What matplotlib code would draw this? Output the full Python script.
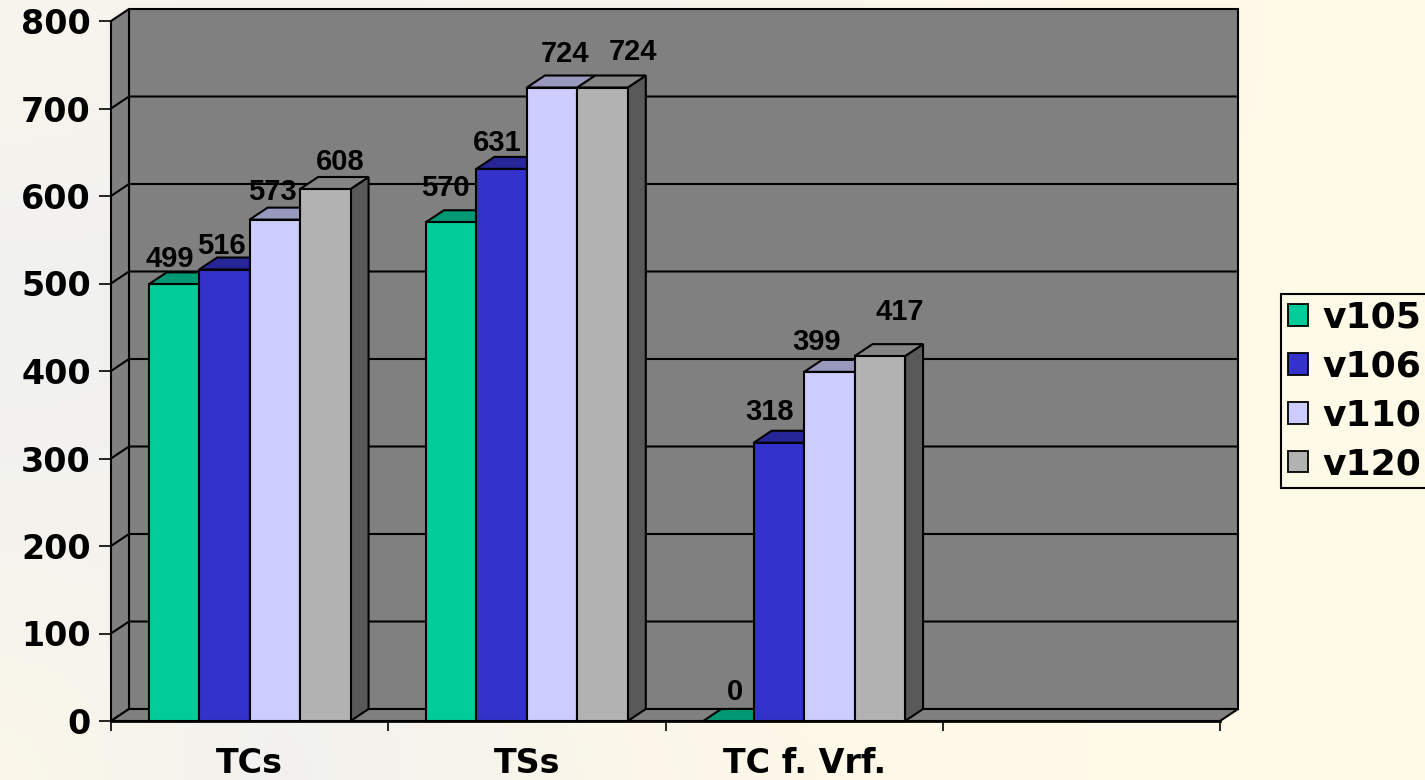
import matplotlib
matplotlib.use("Agg")
import matplotlib.pyplot as plt
import numpy as np
from matplotlib.colors import LinearSegmentedColormap
from matplotlib.patches import Patch

categories = ["TCs", "TSs", "TC f. Vrf.", ""]
series_names = ["v105", "v106", "v110", "v120"]
v105 = [499, 570, 0]
v106 = [516, 631, 318]
v110 = [573, 724, 399]
v120 = [608, 724, 417]
y_ticks = [0, 100, 200, 300, 400, 500, 600, 700, 800]

# front, top and side colours of the boxes
front_colors = ["#00CC99", "#3333CC", "#CCCCFF", "#B2B2B2"]
top_colors = ["#009973", "#262699", "#9999BF", "#858585"]
side_colors = ["#006B50", "#1A1A6B", "#66667F", "#595959"]

# nudges of the value labels, in pixels, one row per series
label_dx = [[-4, -6, 7], [-3, -4, -9], [-2, 13, -13], [15, 30, 20]]
label_dy = [[25, 34, 29], [23, 26, 31], [28, 33, 30], [27, 35, 44]]

# how much of the washed-out picture shows behind the slide (0 = cream)
wash = [[0.5, 0.9, 0.8, 0.6, 0.5, 0.4, 0.2, 0.0, 0.0],
        [0.9, 1.0, 0.8, 0.2, 0.0, 0.0, 0.0, 0.0, 0.0],
        [1.0, 0.9, 0.6, 0.1, 0.0, 0.0, 0.0, 0.0, 0.0],
        [0.9, 0.8, 0.6, 0.1, 0.0, 0.0, 0.0, 0.0, 0.0],
        [0.7, 0.9, 0.6, 0.1, 0.0, 0.0, 0.0, 0.0, 0.0],
        [0.3, 1.0, 0.8, 0.4, 0.2, 0.1, 0.0, 0.0, 0.0]]

WALL = "#808080"
BG = "#FFF9E8"
LW = 1.5

fig = plt.figure(figsize=(14.25, 7.8), dpi=100, facecolor=BG)

bg_ax = fig.add_axes([0, 0, 1, 1], zorder=0)
cmap = LinearSegmentedColormap.from_list("bg", [BG, "#F1F1EF"])
bg_ax.imshow(wash, aspect="auto", cmap=cmap, vmin=0, vmax=1,
             interpolation="bicubic", extent=[0, 1425, 780, 0])
bg_ax.axis("off")

ax = fig.add_axes([111 / 1425, 59 / 780, 1109 / 1425, 700 / 780], zorder=1)
ax.patch.set_visible(False)
ax.set_xlim(0, 4)
ax.set_ylim(0, 800)

dx = 18 / 277.25
dy = 12 / 700 * 800
bar_w = 0.182
margin = (1 - 4 * bar_w) / 2


def poly(xs, ys, color, z):
    ax.fill(xs, ys, facecolor=color, edgecolor="black", linewidth=LW,
            clip_on=False, zorder=z, joinstyle="miter")


# walls and floor
poly([dx, 4 + dx, 4 + dx, dx], [dy, dy, 800 + dy, 800 + dy], WALL, 1)
poly([0, dx, dx, 0], [0, dy, 800 + dy, 800], WALL, 1)
for t in y_ticks[1:-1]:
    ax.plot([0, dx, 4 + dx], [t, t + dy, t + dy], color="black", lw=LW,
            clip_on=False, zorder=2)
poly([0, dx, 4 + dx, 4], [0, dy, dy, 0], WALL, 3)

# boxes, left to right
all_series = [v105, v106, v110, v120]
z = 4
for c in range(3):
    for s, values in enumerate(all_series):
        h = values[c]
        x0 = c + margin + s * bar_w
        x1 = x0 + bar_w
        poly([x1, x1 + dx, x1 + dx, x1], [0, dy, h + dy, h], side_colors[s], z)
        poly([x0, x0 + dx, x1 + dx, x1], [h, h + dy, h + dy, h], top_colors[s], z)
        if h > 0:
            poly([x0, x1, x1, x0], [0, 0, h, h], front_colors[s], z)
        ax.annotate(str(h), xy=(x0 + bar_w / 2, h),
                    xytext=(label_dx[s][c] * 0.72, label_dy[s][c] * 0.72),
                    textcoords="offset points", ha="center", va="center",
                    fontsize=21, fontweight="bold", family="Liberation Sans",
                    color="black", zorder=50, annotation_clip=False)
        z += 1

for name in ["top", "right", "left"]:
    ax.spines[name].set_visible(False)
ax.spines["bottom"].set_linewidth(LW * 1.3)
ax.spines["bottom"].set_zorder(60)

ax.set_yticks(y_ticks)
ax.set_xticks(range(5))
ax.set_xticklabels([])
ax.set_xticks(np.arange(4) + 0.5, minor=True)
ax.set_xticklabels(categories, minor=True)
ax.tick_params(axis="y", length=8.5, width=1.2, pad=6, labelsize=24)
ax.tick_params(axis="x", which="major", length=7.5, width=1.2)
ax.tick_params(axis="x", which="minor", length=0, pad=19, labelsize=24)
for lab in ax.get_yticklabels() + ax.get_xticklabels(minor=True):
    lab.set_fontweight("bold")

handles = [Patch(facecolor=col, edgecolor="black", linewidth=1.3) for col in front_colors]
leg = fig.legend(handles, series_names, loc="center left",
                 bbox_to_anchor=(1281 / 1425, 1 - 391 / 780), borderaxespad=0,
                 prop={"weight": "bold", "size": 26}, handlelength=0.55,
                 handleheight=0.55, handletextpad=0.4, labelspacing=0.41,
                 borderpad=0.2, fancybox=False, framealpha=1, facecolor=BG,
                 edgecolor="black")
leg.get_frame().set_linewidth(LW)

plt.savefig("out.png", dpi=100, facecolor=BG)
